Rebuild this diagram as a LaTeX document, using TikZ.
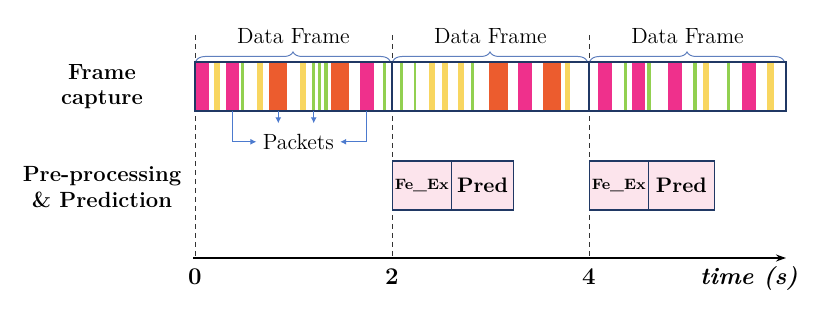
\documentclass[tikz,border=0pt]{standalone}
\usetikzlibrary{decorations.pathreplacing,arrows.meta}
\definecolor{cpink}{RGB}{239,48,140}
\definecolor{cyellow}{RGB}{248,214,96}
\definecolor{cgreen}{RGB}{146,208,80}
\definecolor{corange}{RGB}{236,92,46}
\definecolor{cnavy}{RGB}{32,56,100}
\definecolor{cbrace}{RGB}{96,128,190}
\definecolor{carrow}{RGB}{76,122,206}
\definecolor{cboxfill}{RGB}{252,228,236}
\begin{document}
\begin{tikzpicture}[x=0.5pt,y=-0.5pt,
  framebox/.style={draw=cnavy,line width=0.6pt,minimum width=98.5pt,minimum height=24.5pt,inner sep=0pt,outer sep=0pt},
  bracestyle/.style={draw=cbrace,line width=0.5pt,decorate,decoration={brace,amplitude=4.5pt}},
  dftext/.style={font=\fontsize{11}{13}\selectfont,inner sep=0pt},
  pkt/.style={draw=carrow,line width=0.5pt,-{Latex[length=3pt,width=3pt]}},
  gridline/.style={draw=black!80,line width=0.4pt,dash pattern=on 2.5pt off 2pt},
  axisline/.style={draw=black,line width=0.7pt,-{Stealth[length=5pt,width=3.5pt]}},
  rowlabel/.style={font=\fontsize{11}{12.6}\selectfont\bfseries,align=center,inner sep=0pt},
  axislabel/.style={font=\fontsize{12}{14}\selectfont\bfseries,inner sep=0pt},
  stagebox/.style={draw=cnavy,fill=cboxfill,line width=0.6pt,minimum height=24.5pt,inner sep=0pt,outer sep=0pt},
  fe/.style={stagebox,font=\fontsize{7.5}{9}\selectfont\bfseries},
  pred/.style={stagebox,font=\fontsize{10.5}{12}\selectfont\bfseries}
]
\useasboundingbox (0,0) rectangle (831,310);

% dashed time markers
\foreach \x/\n in {195/0,392/2,589/4}{
  \coordinate (top\n) at (\x,35);
  \coordinate (bot\n) at (\x,258);
  \draw[gridline] (top\n) -- (bot\n);
}

% packet stripes
\foreach \c/\a/\b in {
  cpink/195.5/209, cyellow/214.3/219.7, cpink/226.3/239, cgreen/241/244.3,
  cyellow/257/262.7, corange/269.3/287, cyellow/300/306, cgreen/312.3/315,
  cgreen/318.3/321, cgreen/324.3/327.7, corange/331/349.3, cpink/360.3/374,
  cgreen/383/385.7,
  cgreen/400/403, cgreen/413.7/416.3, cyellow/428.7/434.7, cyellow/441.7/447.7,
  cyellow/458.3/464.3, cgreen/471/473.7, corange/489.3/507.7, cpink/518.3/532,
  corange/542.7/561, cyellow/565/570.3,
  cpink/598.3/612, cgreen/624.3/627.3, cpink/631.7/645, cgreen/647.3/650.7,
  cpink/668.3/681.7, cgreen/693.3/696.7, cyellow/702.7/709, cgreen/727/730,
  cpink/742.3/755.7, cyellow/767.3/773.7}{
  \fill[\c] (\a,62.5) rectangle (\b,110.5);
}

% frames
\node[framebox,anchor=north west] (f1) at (195,62) {};
\node[framebox,anchor=north west] (f2) at (392,62) {};
\node[framebox,anchor=north west] (f3) at (589,62) {};

% braces and labels
\draw[bracestyle] (196,61) -- (390,61);
\draw[bracestyle] (393,61) -- (587,61);
\draw[bracestyle] (590,61) -- (784,61);
\node[dftext,anchor=base] (d1) at (293.5,43.5) {Data Frame};
\node[dftext,anchor=base] (d2) at (490.5,43.5) {Data Frame};
\node[dftext,anchor=base] (d3) at (687.5,43.5) {Data Frame};

% packets
\node[font=\fontsize{11}{13}\selectfont,inner sep=3pt,anchor=base] (pk) at (298.3,149.3) {Packets};
\coordinate (p1) at (232.7,111);
\coordinate (p2) at (278.3,111);
\coordinate (q2) at (278.3,123.3);
\coordinate (p3) at (313.7,111);
\coordinate (q3) at (313.7,123.3);
\coordinate (p4) at (366.7,111);
\draw[pkt] (p1) |- (pk.west);
\draw[pkt] (p4) |- (pk.east);
\draw[pkt] (p2) -- (q2);
\draw[pkt] (p3) -- (q3);

% stage boxes
\node[fe,minimum width=29.5pt,anchor=north west] (fe1) at (392.3,161) {Fe\_Ex};
\node[pred,minimum width=31.2pt,anchor=west] (pr1) at (fe1.east) {Pred};
\node[fe,minimum width=29.5pt,anchor=north west] (fe2) at (589.3,161) {Fe\_Ex};
\node[pred,minimum width=33pt,anchor=west] (pr2) at (fe2.east) {Pred};

% row labels
\node[rowlabel] (rl1) at (102,87) {Frame\\capture};
\node[rowlabel] (rl2) at (102,187) {Pre-processing\\\& Prediction};

% time axis
\coordinate (a0) at (193,258);
\coordinate (a1) at (786,258);
\draw[axisline] (a0) -- (a1);
\node[axislabel,anchor=base] (l0) at (195,285) {0};
\node[axislabel,anchor=base] (l2) at (392,285) {2};
\node[axislabel,anchor=base] (l4) at (589,285) {4};
\node[axislabel,anchor=base] (lt) at (749,285) {\itshape time (s)};
\end{tikzpicture}
\end{document}
